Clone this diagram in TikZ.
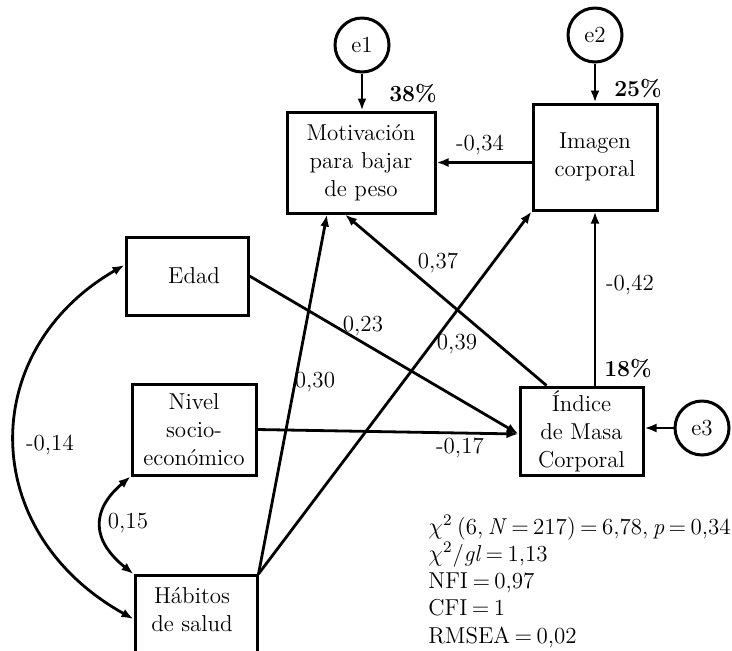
\documentclass[tikz,border=0pt]{standalone}
\usepackage{fontspec}
\usetikzlibrary{arrows.meta,calc}
\newcommand\diafont{\fontsize{11.5}{14}\selectfont}
\newcommand\tightsp{\spaceskip=2.2pt\relax}
\tikzset{
  box/.style={draw, line width=1.5pt, align=center, inner sep=0pt},
  err/.style={draw, circle, line width=1.5pt, minimum size=27pt, inner sep=0pt},
  pathar/.style={line width=1.4pt, -{Latex[length=6pt,width=4.5pt]}},
  covar/.style={line width=1.4pt, {Latex[length=6pt,width=4.5pt]}-{Latex[length=6pt,width=4.5pt]}},
  pct/.style={font=\diafont\bfseries},
  stat/.style={anchor=base west, inner sep=0pt}
}
\begin{document}
\begin{tikzpicture}[x=0.5pt,y=-0.5pt, every node/.append style={font=\diafont}]
\path[use as bounding box, clip] (0,0) rectangle (732,650);
% boxes
\node[box, minimum width=74pt, minimum height=50.5pt] (mot) at (361,162.5) {Motivación\\para bajar\\de peso};
\node[box, minimum width=62pt, minimum height=53pt] (img) at (595,157) {Imagen\\corporal};
\node[box, minimum width=61pt, minimum height=39pt] (edad) at (187,276) {\hspace*{7pt}Edad};
\node[box, minimum width=62pt, minimum height=45.5pt] (niv) at (194,429.5) {Nivel\\socio-\\económico};
\node[box, minimum width=61pt, minimum height=60pt, anchor=north] (hab) at (196,574) {};
\node[align=center, inner sep=0pt] (habtxt) at (192,610) {Hábitos\\de salud};
\node[box, minimum width=61.5pt, minimum height=44pt] (imc) at (581.5,431) {Índice\\de Masa\\Corporal};
% errors
\node[err] (e1) at (362,45) {e1};
\node[err] (e2) at (595,35) {e2};
\node[err] (e3) at (702,428) {e3};
% percentages
\node[pct] (p1) at (413,94) {38\%};
\node[pct] (p2) at (638,89) {25\%};
\node[pct] (p3) at (628,369) {18\%};
% paths
\draw[pathar] (e1) -- (e1 |- mot.north);
\draw[pathar] (e2) -- (e2 |- img.north);
\draw[pathar] (e3) -- (e3 -| imc.east);
\draw[pathar] (img.west |- mot.east) -- (mot.east);
\draw[pathar] (img.south |- imc.north) -- (img.south);
\draw[pathar] ([xshift=14pt]imc.north west) -- ([xshift=-8pt]mot.south);
\draw[pathar] (hab.north east) -- ([xshift=-17pt]mot.south);
\draw[pathar] (hab.north east) -- (img.south west);
\coordinate (imcin) at ([yshift=-1.5pt]imc.west);
\draw[pathar] (edad.east) -- (imcin);
\draw[pathar] (niv.east) -- (imcin);
% covariances
\draw[covar] ([yshift=5.5pt]edad.west) .. controls (-23,350) and (-23,532) .. ([yshift=-22.5pt]hab.north west);
\draw[covar] (niv.south west) .. controls (91,510) and (91,540) .. (hab.north west);
% coefficients
\node (c1) at (480,145) {-0,34};
\node (c2) at (438,263) {0,37};
\node (c3) at (630,285) {-0,42};
\node (c4) at (363,326) {0,23};
\node (c5) at (457,344) {0,39};
\node (c6) at (315,382) {0,30};
\node (c7) at (460,448) {-0,17};
\node (c8) at (50,445) {-0,14};
\node (c9) at (128,523) {0,15};
% fit statistics
\node[stat] (s1) at (428,534) {\tightsp$\chi$\textsuperscript{2} (6, \textit{N} = 217) = 6,78, \textit{p} = 0,34};
\node[stat] (s2) at (428,561) {\tightsp$\chi$\textsuperscript{2}/\textit{gl} = 1,13};
\node[stat] (s3) at (428,588) {\tightsp NFI = 0,97};
\node[stat] (s4) at (428,615) {\tightsp CFI = 1};
\node[stat] (s5) at (428,643) {\tightsp RMSEA = 0,02};
\end{tikzpicture}
\end{document}
